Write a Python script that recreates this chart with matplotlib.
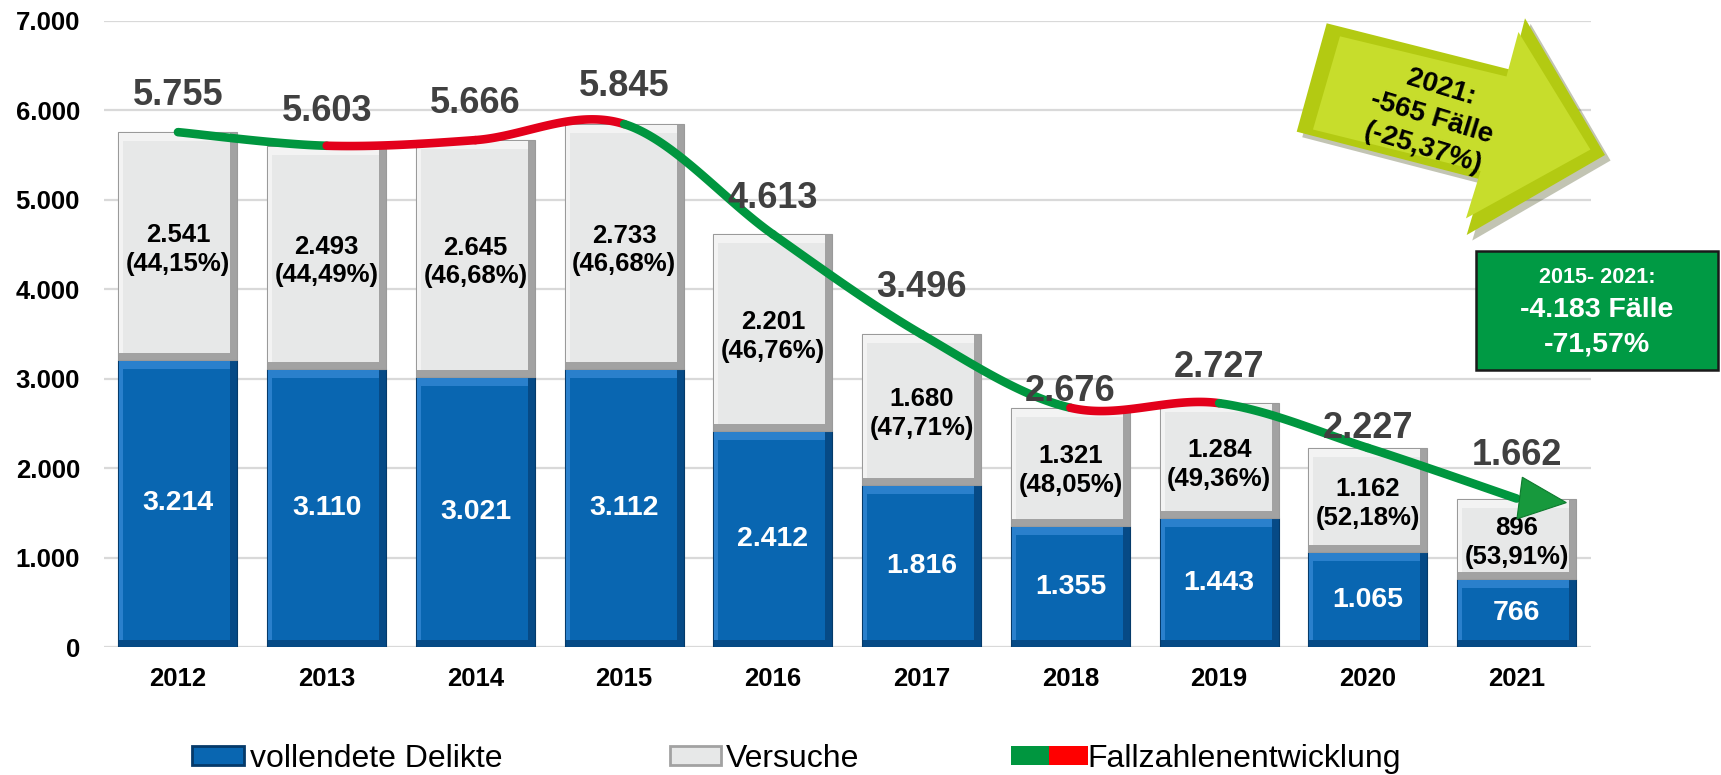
import numpy as np
import matplotlib
matplotlib.use("Agg")
import matplotlib.pyplot as plt
import matplotlib.transforms as mtrans
import matplotlib.patheffects as pe
from matplotlib.patches import Patch, Polygon, Rectangle
from matplotlib.legend_handler import HandlerTuple
from matplotlib.ticker import FuncFormatter

# ---------------- data ----------------
years = ["2012", "2013", "2014", "2015", "2016", "2017", "2018", "2019", "2020", "2021"]
vollendete = [3214, 3110, 3021, 3112, 2412, 1816, 1355, 1443, 1065, 766]
versuche = [2541, 2493, 2645, 2733, 2201, 1680, 1321, 1284, 1162, 896]
versuche_pct = ["44,15%", "44,49%", "46,68%", "46,68%", "46,76%",
                "47,71%", "48,05%", "49,36%", "52,18%", "53,91%"]
gesamt = [5755, 5603, 5666, 5845, 4613, 3496, 2676, 2727, 2227, 1662]
y_ticks = [0, 1000, 2000, 3000, 4000, 5000, 6000, 7000]
legend_labels = ["vollendete Delikte", "Versuche", "Fallzahlenentwicklung"]
arrow_text = "2021:\n-565 Fälle\n(-25,37%)"
box_lines = ["2015- 2021:", "-4.183 Fälle", "-71,57%"]

# ---------------- style ----------------
plt.rcParams["font.family"] = ["Liberation Sans", "DejaVu Sans"]
W, H = 1721, 775
DPI = 100
BLUE_FACE, BLUE_LIGHT, BLUE_DARK, BLUE_EDGE = "#0966B1", "#2A80CC", "#064A86", "#053A6A"
GREY_FACE, GREY_LIGHT, GREY_DARK, GREY_EDGE = "#E7E8E8", "#F3F3F3", "#A2A2A2", "#9A9A9A"
GREEN, RED = "#00963F", "#E3001B"
TOTAL_COL = "#404040"

def fmt(v):
    return f"{int(v):,}".replace(",", ".")

fig = plt.figure(figsize=(W / DPI, H / DPI), dpi=DPI)
ax_l, ax_r, ax_t, ax_b = 103.6, 1591, 20.7, 647.3
ax = fig.add_axes([ax_l / W, 1 - ax_b / H, (ax_r - ax_l) / W, (ax_b - ax_t) / H])

x = np.arange(len(years))
ax.set_xlim(-0.5, len(years) - 0.5)
ax.set_ylim(0, 7000)
PX_X = (ax_r - ax_l) / len(years)   # pixels per x unit
PX_Y = (ax_b - ax_t) / 7000.0       # pixels per value unit
BW = 0.8

def bevel_bars(xs, bottom, height, face, light, dark, edge, top=9, left=5, right=7, bot=7):
    xs = np.asarray(xs, float)
    bottom = np.asarray(bottom, float)
    height = np.asarray(height, float)
    ax.bar(xs, height, BW, bottom=bottom, color=dark, edgecolor=edge, linewidth=0.8, zorder=2)
    ax.bar(xs - BW / 2 + 1 / PX_X, height - bot / PX_Y - 1 / PX_Y, BW - right / PX_X - 1 / PX_X,
           bottom=bottom + bot / PX_Y, align="edge", color=light, zorder=2.1, linewidth=0)
    ax.bar(xs - BW / 2 + left / PX_X, height - (top + bot) / PX_Y, BW - (left + right) / PX_X,
           bottom=bottom + bot / PX_Y, align="edge", color=face, zorder=2.2, linewidth=0)

vol = np.array(vollendete, float)
ver = np.array(versuche, float)
bevel_bars(x, np.zeros_like(vol), vol, BLUE_FACE, BLUE_LIGHT, BLUE_DARK, BLUE_EDGE)
bevel_bars(x, vol, ver, GREY_FACE, GREY_LIGHT, GREY_DARK, GREY_EDGE)

# labels inside bars
for i in range(len(years)):
    ax.text(x[i], vol[i] / 2, fmt(vol[i]), ha="center", va="center", color="white",
            fontsize=20.5, fontweight="bold", zorder=5)
    ax.text(x[i], vol[i] + ver[i] / 2 - 40, f"{fmt(ver[i])}\n({versuche_pct[i]})",
            ha="center", va="center", color="black", fontsize=18.5, fontweight="bold",
            linespacing=1.25, zorder=5)

# smoothed development line (Bezier through the data points)
tot = np.array(gesamt, float)
P = np.column_stack([x * PX_X, tot * PX_Y])
n = len(P)
for i in range(n - 1):
    p0 = P[max(i - 1, 0)]
    p1 = P[i]
    p2 = P[i + 1]
    p3 = P[min(i + 2, n - 1)]
    c1 = p1 + (p2 - p0) / 6
    c2 = p2 - (p3 - p1) / 6
    t = np.linspace(0, 1, 60)[:, None]
    seg = (1 - t) ** 3 * p1 + 3 * (1 - t) ** 2 * t * c1 + 3 * (1 - t) * t ** 2 * c2 + t ** 3 * p2
    col = RED if tot[i + 1] > tot[i] else GREEN
    ax.plot(seg[:, 0] / PX_X, seg[:, 1] / PX_Y, color=col, lw=6.2,
            solid_capstyle="round", zorder=6)

# arrow head at the end of the line
head = np.array([[0.057, 0.213], [0.003, -0.204], [0.497, -0.041]])
tr = fig.dpi_scale_trans + mtrans.ScaledTranslation(x[-1], tot[-1], ax.transData)
ax.add_patch(Polygon(head, closed=True, transform=tr, facecolor="#17993D",
                     edgecolor="#0E7A2E", lw=0.8, zorder=7))

# total labels above the line
total_off = [19.5, 17.5, 19.5, 20, 19.2, 27, 5, 19, 7, 24]
for i in range(n):
    ax.annotate(fmt(tot[i]), (x[i], tot[i]), xytext=(0, total_off[i]), textcoords="offset points",
                ha="center", va="baseline", fontsize=26, fontweight="bold", color=TOTAL_COL, zorder=8)

# axes styling
ax.set_xticks(x)
ax.set_xticklabels(years)
ax.set_yticks(y_ticks)
ax.yaxis.set_major_formatter(FuncFormatter(lambda v, p: fmt(v)))
for s in ax.spines.values():
    s.set_visible(False)
ax.tick_params(axis="both", length=0, labelsize=18.5)
ax.tick_params(axis="y", pad=17)
ax.tick_params(axis="x", pad=14)
for lab in ax.get_xticklabels() + ax.get_yticklabels():
    lab.set_fontweight("bold")
ax.yaxis.grid(True, color="#D9D9D9", lw=1.6)
ax.set_axisbelow(True)

# ---------------- top-right annotations ----------------
def fpt(px, py):
    return (px / W, 1 - py / H)

arrow_px = [(1326.7, 23.3), (1511.7, 70), (1525, 18.3), (1605, 155),
            (1466.7, 235), (1483, 180), (1296.7, 131.7)]
arr = Polygon([fpt(*p) for p in arrow_px], closed=True, transform=fig.transFigure,
              facecolor="#B3CA12", edgecolor="none", zorder=3,
              path_effects=[pe.SimplePatchShadow(offset=(4, -4), alpha=0.3), pe.Normal()])
fig.add_artist(arr)
cx = np.mean([p[0] for p in arrow_px])
cy = np.mean([p[1] for p in arrow_px])
inner = [(cx + (px - cx) * 0.9, cy + (py - cy) * 0.86) for px, py in arrow_px]
fig.add_artist(Polygon([fpt(*p) for p in inner], closed=True, transform=fig.transFigure,
                       facecolor="#C7DD2C", edgecolor="none", zorder=3.1))
fig.text(*fpt(1432, 118), arrow_text, rotation=-17, rotation_mode="anchor",
         ha="center", va="center", multialignment="center", fontsize=20,
         fontweight="bold", color="black", linespacing=1.3, zorder=4)

bx0, by0, bx1, by1 = 1476, 251, 1718, 370
fig.add_artist(Rectangle(fpt(bx0, by1), (bx1 - bx0) / W, (by1 - by0) / H,
                         transform=fig.transFigure, facecolor="#009A44",
                         edgecolor="#1A1A1A", lw=1.8, zorder=3))
bcx = (bx0 + bx1) / 2
fig.text(*fpt(bcx, 283), box_lines[0], ha="center", va="baseline", fontsize=15.5,
         fontweight="bold", color="white", zorder=4)
fig.text(*fpt(bcx, 317), box_lines[1], ha="center", va="baseline", fontsize=20.5,
         fontweight="bold", color="white", zorder=4)
fig.text(*fpt(bcx, 352), box_lines[2], ha="center", va="baseline", fontsize=20.5,
         fontweight="bold", color="white", zorder=4)

# ---------------- legends ----------------
LFS = 23
leg_y = 1 - 759 / H
common = dict(loc="center left", frameon=False, borderpad=0, borderaxespad=0,
              handleheight=0.55, fontsize=LFS)
h1 = Patch(facecolor=BLUE_FACE, edgecolor=BLUE_EDGE, lw=2)
h2 = Patch(facecolor=GREY_FACE, edgecolor=GREY_DARK, lw=2)
h3 = (Patch(facecolor=GREEN, edgecolor="none"), Patch(facecolor="#FF0000", edgecolor="none"))
fig.legend([h1], [legend_labels[0]], bbox_to_anchor=(192 / W, leg_y),
           handlelength=1.63, handletextpad=0.19, **common)
fig.legend([h2], [legend_labels[1]], bbox_to_anchor=(669.5 / W, leg_y),
           handlelength=1.6, handletextpad=0.17, **common)
fig.legend([h3], [legend_labels[2]], bbox_to_anchor=(1011 / W, leg_y),
           handlelength=2.4, handletextpad=0.0,
           handler_map={tuple: HandlerTuple(ndivide=None, pad=0)}, **common)

fig.savefig("out.png", dpi=DPI)
